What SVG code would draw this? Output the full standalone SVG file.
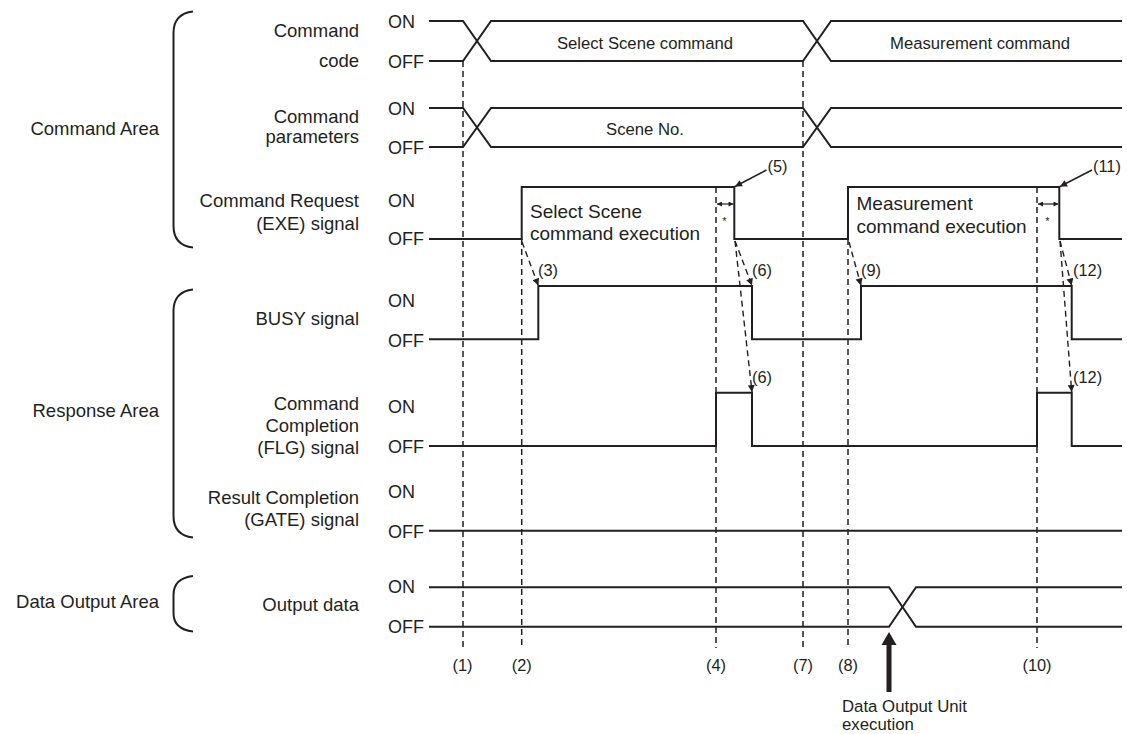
<svg xmlns="http://www.w3.org/2000/svg" width="1127" height="734" viewBox="0 0 1127 734">
<style>
text{font-family:"Liberation Sans",Arial,sans-serif;fill:#231f20}
.lbl{font-size:18.5px;text-anchor:end}
.st{font-size:18px}
.bus{font-size:16.7px;text-anchor:middle}
.pul{font-size:19px}
.num{font-size:16.4px}
.numc{font-size:16.4px;text-anchor:middle}
.w{fill:none;stroke:#231f20;stroke-width:2;stroke-linejoin:miter}
.br{fill:none;stroke:#231f20;stroke-width:2}
.dv{fill:none;stroke:#231f20;stroke-width:1.5;stroke-dasharray:6 4}
.da{fill:none;stroke:#231f20;stroke-width:1.4;stroke-dasharray:6 4}
.sa{fill:none;stroke:#231f20;stroke-width:1.5}
</style>
<defs>
<marker id="ah" viewBox="0 0 10 10" refX="10" refY="5" markerWidth="9" markerHeight="7" markerUnits="userSpaceOnUse" orient="auto">
<path d="M0,0 L10,5 L0,10 z" fill="#231f20"/>
</marker>
<marker id="ahs" viewBox="0 0 10 10" refX="10" refY="5" markerWidth="6" markerHeight="5" markerUnits="userSpaceOnUse" orient="auto-start-reverse">
<path d="M0,0 L10,5 L0,10 z" fill="#231f20"/>
</marker>
</defs>

<g id="areas">
<g id="area-command">
<text class="lbl" x="159" y="135">Command Area</text>
<path class="br" d="M193,11.5 C180,13 173.5,20 173.5,33 L173.5,226 C173.5,239 180,246 193,247.5"/>
</g>
<g id="area-response">
<text class="lbl" x="159" y="417">Response Area</text>
<path class="br" d="M193,289.5 C180,291 173.5,298 173.5,311 L173.5,516 C173.5,529 180,536 193,537.5"/>
</g>
<g id="area-data">
<text class="lbl" x="159" y="608">Data Output Area</text>
<path class="br" d="M193,576 C180,577.5 173.5,584 173.5,595 L173.5,613 C173.5,624 180,630 193,631.5"/>
</g>
</g>

<g id="sig-code">
<text class="lbl" x="359" y="37">Command</text>
<text class="lbl" x="359" y="67">code</text>
<text class="st" x="388" y="28">ON</text>
<text class="st" x="388" y="67.5">OFF</text>
<path class="w" d="M429,21 H463 L491,61 H803 L831,21 H1122"/>
<path class="w" d="M429,61 H463 L491,21 H803 L831,61 H1122"/>
<text class="bus" x="645" y="49">Select Scene command</text>
<text class="bus" x="980" y="49">Measurement command</text>
</g>

<g id="sig-params">
<text class="lbl" x="359" y="123">Command</text>
<text class="lbl" x="359" y="143">parameters</text>
<text class="st" x="388" y="115">ON</text>
<text class="st" x="388" y="153.5">OFF</text>
<path class="w" d="M429,108 H463 L491,147 H803 L831,108 H1122"/>
<path class="w" d="M429,147 H463 L491,108 H803 L831,147 H1122"/>
<text class="bus" x="645" y="135">Scene No.</text>
</g>

<g id="sig-exe">
<text class="lbl" x="359" y="207">Command Request</text>
<text class="lbl" x="359" y="230">(EXE) signal</text>
<text class="st" x="388" y="206.5">ON</text>
<text class="st" x="388" y="245">OFF</text>
<path class="w" d="M429,239 H521.7 V187 H734.3 V239 H848 V187 H1059.3 V239 H1122"/>
<text class="pul" x="530" y="217.5">Select Scene</text>
<text class="pul" x="530" y="239.5">command execution</text>
<text class="pul" x="856.5" y="210">Measurement</text>
<text class="pul" x="856.5" y="233">command execution</text>
<text class="num" x="767.5" y="172">(5)</text>
<text class="num" x="1093" y="172">(11)</text>
<text x="724.5" y="225" style="font-size:11px;text-anchor:middle">*</text>
<text x="1047.5" y="225" style="font-size:11px;text-anchor:middle">*</text>
</g>

<g id="sig-busy">
<text class="lbl" x="359" y="325">BUSY signal</text>
<text class="st" x="388" y="307">ON</text>
<text class="st" x="388" y="347">OFF</text>
<path class="w" d="M429,339.3 H538.3 V286 H752 V339.3 H861 V286 H1071.7 V339.3 H1122"/>
<text class="num" x="538" y="275.5">(3)</text>
<text class="num" x="752" y="275.5">(6)</text>
<text class="num" x="861" y="275.5">(9)</text>
<text class="num" x="1073" y="275.5">(12)</text>
</g>

<g id="sig-flg">
<text class="lbl" x="359" y="410">Command</text>
<text class="lbl" x="359" y="432">Completion</text>
<text class="lbl" x="359" y="454">(FLG) signal</text>
<text class="st" x="388" y="413">ON</text>
<text class="st" x="388" y="453">OFF</text>
<path class="w" d="M429,446 H716 V392.7 H752 V446 H1037 V392.7 H1071.7 V446 H1122"/>
<text class="num" x="752" y="383">(6)</text>
<text class="num" x="1073" y="383">(12)</text>
</g>

<g id="sig-gate">
<text class="lbl" x="359" y="504">Result Completion</text>
<text class="lbl" x="359" y="526">(GATE) signal</text>
<text class="st" x="388" y="498">ON</text>
<text class="st" x="388" y="538">OFF</text>
<path class="w" d="M429,530.7 H1122"/>
</g>

<g id="sig-output">
<text class="lbl" x="359" y="611">Output data</text>
<text class="st" x="388" y="593">ON</text>
<text class="st" x="388" y="633">OFF</text>
<path class="w" d="M429,587.3 H889 L916,626.7 H1122"/>
<path class="w" d="M429,626.7 H889 L916,587.3 H1122"/>
</g>

<g id="timing-labels">
<text class="numc" x="462.5" y="671">(1)</text>
<text class="numc" x="521.7" y="671">(2)</text>
<text class="numc" x="716" y="671">(4)</text>
<text class="numc" x="803" y="671">(7)</text>
<text class="numc" x="848" y="671">(8)</text>
<text class="numc" x="1037" y="671">(10)</text>
</g>

<g id="data-output-unit">
<path d="M886.5,692 V645 H881.5 L889,632 L896.5,645 H891.5 V692 z" fill="#231f20"/>
<text x="842" y="712" style="font-size:16.8px">Data Output Unit</text>
<text x="842" y="730" style="font-size:16.8px">execution</text>
</g>

<g id="connectors">
<path class="dv" d="M463,61 V648"/>
<path class="dv" d="M521.7,239 V648"/>
<path class="dv" d="M716,187 V648"/>
<path class="dv" d="M803,61 V648"/>
<path class="dv" d="M848,239 V648"/>
<path class="dv" d="M1037,187 V648"/>
<path class="da" d="M522,242 L538.3,285.5" marker-end="url(#ah)"/>
<path class="da" d="M735,241 L752,285.5" marker-end="url(#ah)"/>
<path class="da" d="M735,241 L752,392" marker-end="url(#ah)"/>
<path class="da" d="M849,242 L861,285.5" marker-end="url(#ah)"/>
<path class="da" d="M1060,241 L1071.7,285.5" marker-end="url(#ah)"/>
<path class="da" d="M1060,241 L1071.7,392" marker-end="url(#ah)"/>
<path class="sa" d="M766.5,170 L735,186.5" marker-end="url(#ah)"/>
<path class="sa" d="M1092,170 L1060,186.5" marker-end="url(#ah)"/>
<path class="sa" d="M717,204 H733.5" marker-start="url(#ahs)" marker-end="url(#ahs)" style="stroke-width:1.2"/>
<path class="sa" d="M1038,204 H1058.5" marker-start="url(#ahs)" marker-end="url(#ahs)" style="stroke-width:1.2"/>
</g>
</svg>
